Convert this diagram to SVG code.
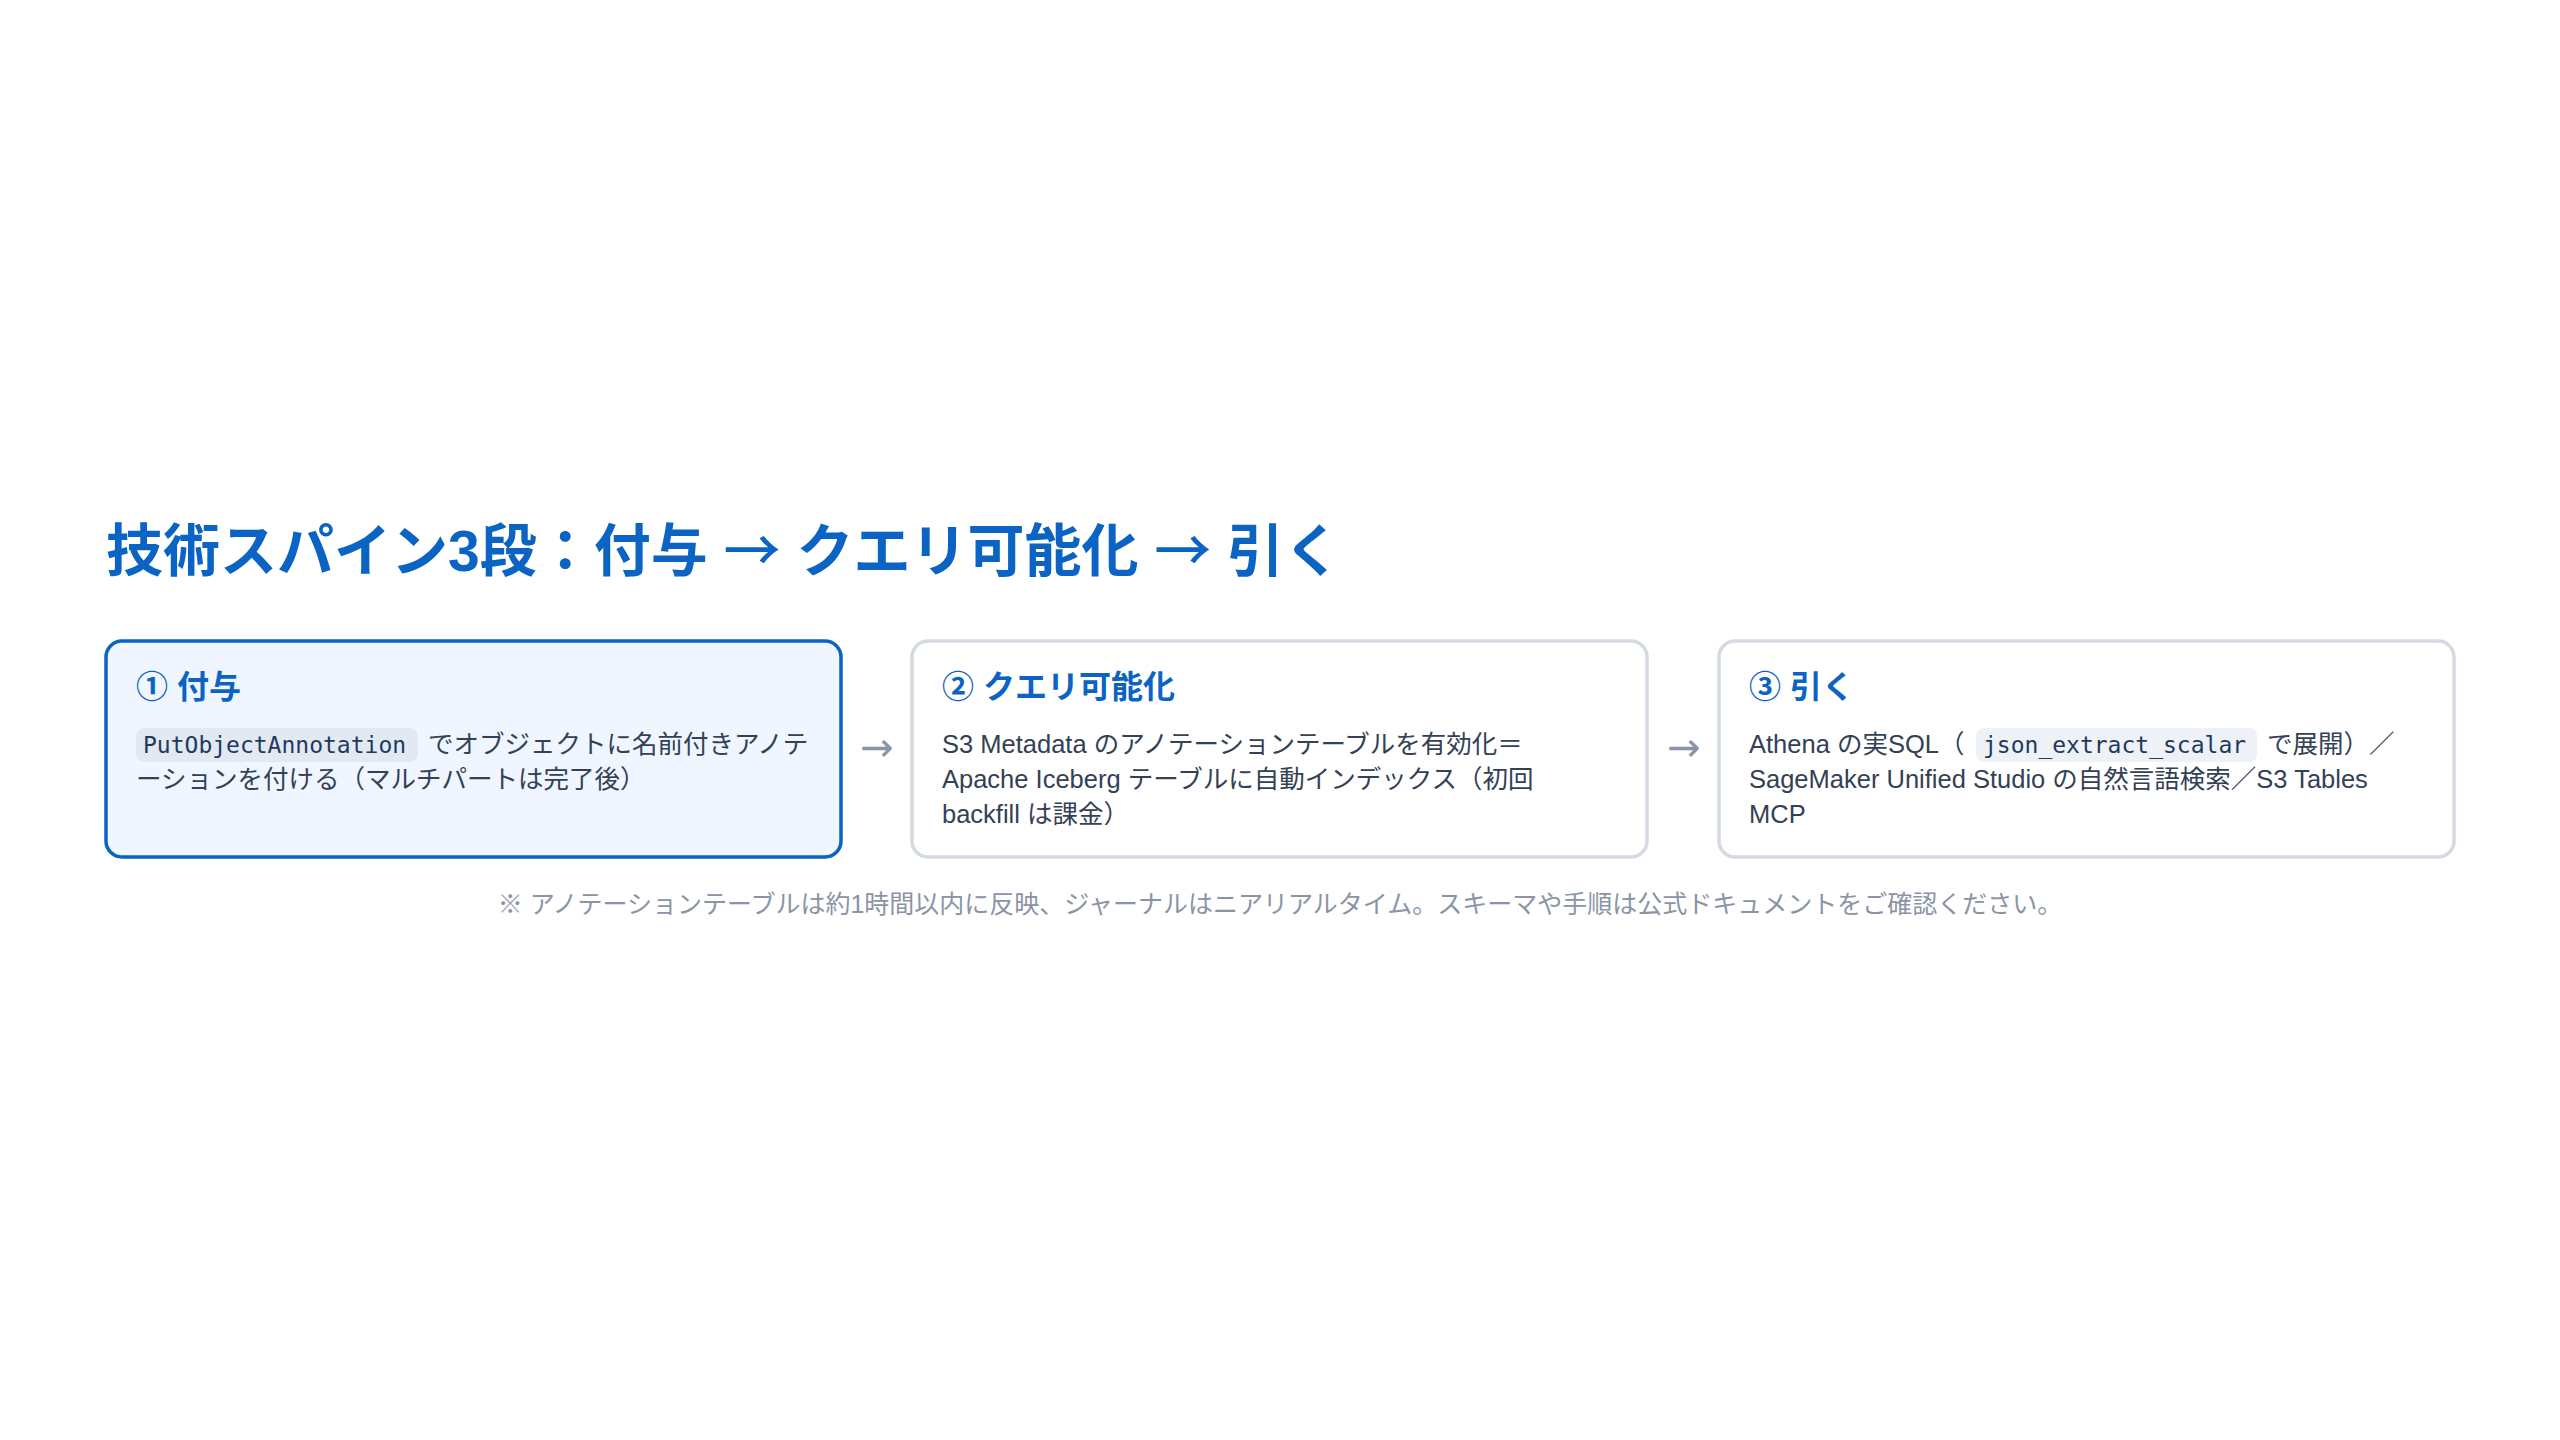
<svg xmlns="http://www.w3.org/2000/svg" width="2560" height="1440" viewBox="0 0 2560 1440">
<style>
.title{font-family:"Liberation Sans","Noto Sans CJK JP",sans-serif;font-weight:700;font-size:57px;fill:#0b63c4}
.cjk{font-family:"Noto Sans CJK JP",sans-serif;font-weight:500}
.head{font-family:"Liberation Sans","Noto Sans CJK JP",sans-serif;font-weight:700;font-size:32px;fill:#0b63c4}
.body{font-family:"Liberation Sans","Noto Sans CJK JP",sans-serif;font-size:25.5px;fill:#334155}
.mono{font-family:"DejaVu Sans Mono","Liberation Mono",monospace;font-size:23px;fill:#1e3a5f}
.note{font-family:"Liberation Sans","Noto Sans CJK JP",sans-serif;font-size:25px;fill:#8a94a6}
.arrow{font-family:"DejaVu Sans","Noto Sans CJK JP",sans-serif;font-size:40px;fill:#8a94a6}
.box{fill:#ffffff;stroke:#d3dae2;stroke-width:3.5}
.box.active{fill:#eff6ff;stroke:#0b63c4}
</style>
<rect width="2560" height="1440" fill="#ffffff"/>
<text class="title" x="106" y="571">技術スパイン3段：付与 <tspan class="cjk">→</tspan> クエリ可能化 <tspan class="cjk">→</tspan> 引く</text>

<g id="connectors">
<text class="arrow" x="877" y="761" text-anchor="middle">→</text>
<text class="arrow" x="1684" y="761" text-anchor="middle">→</text>
</g>

<g id="step1">
<rect class="box active" x="106" y="641" width="735" height="216" rx="16"/>
<text class="head" x="136" y="698">① 付与</text>
<rect x="136" y="728" width="282" height="34" rx="8" fill="#e3e9f1"/>
<text class="mono" x="143" y="753">PutObjectAnnotation</text>
<text class="body" x="428" y="753">でオブジェクトに名前付きアノテ</text>
<text class="body" x="136" y="788">ーションを付ける（マルチパートは完了後）</text>
</g>

<g id="step2">
<rect class="box" x="912" y="641" width="735" height="216" rx="16"/>
<text class="head" x="942" y="698">② クエリ可能化</text>
<text class="body" x="942" y="753">S3 Metadata のアノテーションテーブルを有効化＝</text>
<text class="body" x="942" y="788">Apache Iceberg テーブルに自動インデックス（初回</text>
<text class="body" x="942" y="823">backfill は課金）</text>
</g>

<g id="step3">
<rect class="box" x="1719" y="641" width="735" height="216" rx="16"/>
<text class="head" x="1749" y="698">③ 引く</text>
<text class="body" x="1749" y="753">Athena の実SQL（</text>
<rect x="1976" y="728" width="281" height="34" rx="8" fill="#eef1f5"/>
<text class="mono" x="1983" y="753">json_extract_scalar</text>
<text class="body" x="2267" y="753">で展開）／</text>
<text class="body" x="1749" y="788">SageMaker Unified Studio の自然言語検索／S3 Tables</text>
<text class="body" x="1749" y="823">MCP</text>
</g>

<text class="note" x="1280" y="913" text-anchor="middle">※ アノテーションテーブルは約1時間以内に反映、ジャーナルはニアリアルタイム。スキーマや手順は公式ドキュメントをご確認ください。</text>
</svg>
